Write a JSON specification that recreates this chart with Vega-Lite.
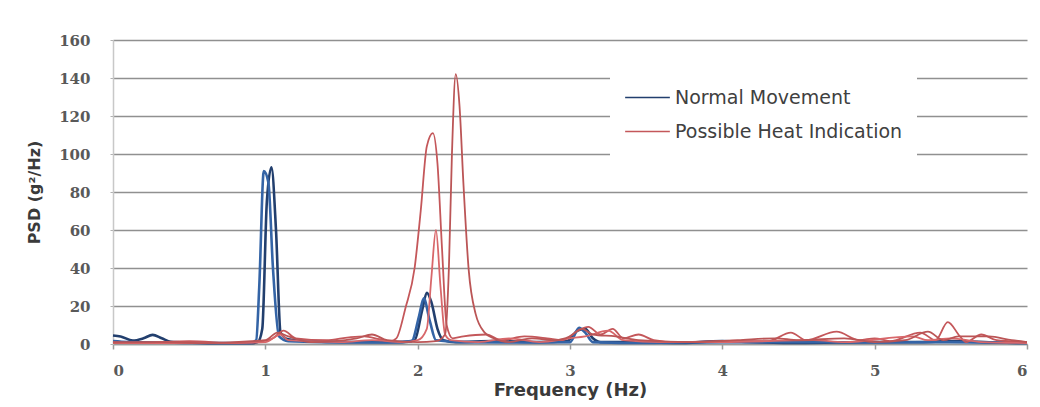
{
  "$schema": "https://vega.github.io/schema/vega-lite/v6.json",
  "width": 914,
  "height": 304,
  "autosize": {"type": "none"},
  "padding": {"left": 113, "top": 40, "right": 13, "bottom": 63},
  "background": "white",
  "config": {"view": {"stroke": null}, "font": "DejaVu Sans"},
  "datasets": {
    "psd": [
      {"series": "Normal Movement", "group": "Normal", "f": 0, "v": 4.5},
      {"series": "Normal Movement", "group": "Normal", "f": 0.05, "v": 4},
      {"series": "Normal Movement", "group": "Normal", "f": 0.13, "v": 1.8},
      {"series": "Normal Movement", "group": "Normal", "f": 0.2, "v": 3},
      {"series": "Normal Movement", "group": "Normal", "f": 0.26, "v": 4.8},
      {"series": "Normal Movement", "group": "Normal", "f": 0.32, "v": 3},
      {"series": "Normal Movement", "group": "Normal", "f": 0.38, "v": 1.2},
      {"series": "Normal Movement", "group": "Normal", "f": 0.5, "v": 0.8},
      {"series": "Normal Movement", "group": "Normal", "f": 0.7, "v": 0.4},
      {"series": "Normal Movement", "group": "Normal", "f": 0.9, "v": 0.4},
      {"series": "Normal Movement", "group": "Normal", "f": 0.95, "v": 1},
      {"series": "Normal Movement", "group": "Normal", "f": 0.98, "v": 8},
      {"series": "Normal Movement", "group": "Normal", "f": 1.01, "v": 75},
      {"series": "Normal Movement", "group": "Normal", "f": 1.04, "v": 93},
      {"series": "Normal Movement", "group": "Normal", "f": 1.07, "v": 60},
      {"series": "Normal Movement", "group": "Normal", "f": 1.1, "v": 6},
      {"series": "Normal Movement", "group": "Normal", "f": 1.15, "v": 2.5},
      {"series": "Normal Movement", "group": "Normal", "f": 1.3, "v": 1.5},
      {"series": "Normal Movement", "group": "Normal", "f": 1.5, "v": 1},
      {"series": "Normal Movement", "group": "Normal", "f": 1.7, "v": 1},
      {"series": "Normal Movement", "group": "Normal", "f": 1.9, "v": 1},
      {"series": "Normal Movement", "group": "Normal", "f": 1.98, "v": 2},
      {"series": "Normal Movement", "group": "Normal", "f": 2.03, "v": 18},
      {"series": "Normal Movement", "group": "Normal", "f": 2.06, "v": 27},
      {"series": "Normal Movement", "group": "Normal", "f": 2.09, "v": 22},
      {"series": "Normal Movement", "group": "Normal", "f": 2.13, "v": 8},
      {"series": "Normal Movement", "group": "Normal", "f": 2.17, "v": 2},
      {"series": "Normal Movement", "group": "Normal", "f": 2.25, "v": 1},
      {"series": "Normal Movement", "group": "Normal", "f": 2.5, "v": 1.5},
      {"series": "Normal Movement", "group": "Normal", "f": 2.8, "v": 1},
      {"series": "Normal Movement", "group": "Normal", "f": 2.98, "v": 1.5},
      {"series": "Normal Movement", "group": "Normal", "f": 3.05, "v": 7},
      {"series": "Normal Movement", "group": "Normal", "f": 3.1, "v": 8},
      {"series": "Normal Movement", "group": "Normal", "f": 3.15, "v": 3},
      {"series": "Normal Movement", "group": "Normal", "f": 3.2, "v": 1},
      {"series": "Normal Movement", "group": "Normal", "f": 3.4, "v": 1},
      {"series": "Normal Movement", "group": "Normal", "f": 3.7, "v": 0.5},
      {"series": "Normal Movement", "group": "Normal", "f": 4.0, "v": 1.5},
      {"series": "Normal Movement", "group": "Normal", "f": 4.2, "v": 1},
      {"series": "Normal Movement", "group": "Normal", "f": 4.5, "v": 0.5},
      {"series": "Normal Movement", "group": "Normal", "f": 5.0, "v": 1},
      {"series": "Normal Movement", "group": "Normal", "f": 5.3, "v": 1},
      {"series": "Normal Movement", "group": "Normal", "f": 5.5, "v": 1.5},
      {"series": "Normal Movement", "group": "Normal", "f": 5.8, "v": 0.8},
      {"series": "Normal Movement", "group": "Normal", "f": 6, "v": 0.5},

      {"series": "Normal Movement 2", "group": "Normal", "f": 0, "v": 1.5},
      {"series": "Normal Movement 2", "group": "Normal", "f": 0.1, "v": 1},
      {"series": "Normal Movement 2", "group": "Normal", "f": 0.3, "v": 0.8},
      {"series": "Normal Movement 2", "group": "Normal", "f": 0.6, "v": 0.5},
      {"series": "Normal Movement 2", "group": "Normal", "f": 0.9, "v": 0.5},
      {"series": "Normal Movement 2", "group": "Normal", "f": 0.94, "v": 2},
      {"series": "Normal Movement 2", "group": "Normal", "f": 0.96, "v": 30},
      {"series": "Normal Movement 2", "group": "Normal", "f": 0.99, "v": 91},
      {"series": "Normal Movement 2", "group": "Normal", "f": 1.02, "v": 85},
      {"series": "Normal Movement 2", "group": "Normal", "f": 1.05, "v": 40},
      {"series": "Normal Movement 2", "group": "Normal", "f": 1.09, "v": 4},
      {"series": "Normal Movement 2", "group": "Normal", "f": 1.15, "v": 1.5},
      {"series": "Normal Movement 2", "group": "Normal", "f": 1.4, "v": 1},
      {"series": "Normal Movement 2", "group": "Normal", "f": 1.8, "v": 0.8},
      {"series": "Normal Movement 2", "group": "Normal", "f": 1.96, "v": 1.5},
      {"series": "Normal Movement 2", "group": "Normal", "f": 2.01, "v": 15},
      {"series": "Normal Movement 2", "group": "Normal", "f": 2.04, "v": 24},
      {"series": "Normal Movement 2", "group": "Normal", "f": 2.08, "v": 12},
      {"series": "Normal Movement 2", "group": "Normal", "f": 2.12, "v": 2},
      {"series": "Normal Movement 2", "group": "Normal", "f": 2.3, "v": 1},
      {"series": "Normal Movement 2", "group": "Normal", "f": 2.7, "v": 0.8},
      {"series": "Normal Movement 2", "group": "Normal", "f": 3.0, "v": 1},
      {"series": "Normal Movement 2", "group": "Normal", "f": 3.06, "v": 8.5},
      {"series": "Normal Movement 2", "group": "Normal", "f": 3.1, "v": 6},
      {"series": "Normal Movement 2", "group": "Normal", "f": 3.15, "v": 1},
      {"series": "Normal Movement 2", "group": "Normal", "f": 3.5, "v": 0.5},
      {"series": "Normal Movement 2", "group": "Normal", "f": 4.0, "v": 1},
      {"series": "Normal Movement 2", "group": "Normal", "f": 4.5, "v": 1},
      {"series": "Normal Movement 2", "group": "Normal", "f": 5.0, "v": 0.8},
      {"series": "Normal Movement 2", "group": "Normal", "f": 5.5, "v": 1},
      {"series": "Normal Movement 2", "group": "Normal", "f": 6, "v": 0.5},

      {"series": "Possible Heat Indication", "group": "Heat", "f": 0, "v": 1},
      {"series": "Possible Heat Indication", "group": "Heat", "f": 0.2, "v": 0.8},
      {"series": "Possible Heat Indication", "group": "Heat", "f": 0.5, "v": 1.5},
      {"series": "Possible Heat Indication", "group": "Heat", "f": 0.8, "v": 0.5},
      {"series": "Possible Heat Indication", "group": "Heat", "f": 0.95, "v": 1},
      {"series": "Possible Heat Indication", "group": "Heat", "f": 1.05, "v": 3},
      {"series": "Possible Heat Indication", "group": "Heat", "f": 1.12, "v": 7},
      {"series": "Possible Heat Indication", "group": "Heat", "f": 1.2, "v": 3},
      {"series": "Possible Heat Indication", "group": "Heat", "f": 1.4, "v": 2},
      {"series": "Possible Heat Indication", "group": "Heat", "f": 1.55, "v": 3.5},
      {"series": "Possible Heat Indication", "group": "Heat", "f": 1.65, "v": 4},
      {"series": "Possible Heat Indication", "group": "Heat", "f": 1.75, "v": 2.5},
      {"series": "Possible Heat Indication", "group": "Heat", "f": 1.82, "v": 1.5},
      {"series": "Possible Heat Indication", "group": "Heat", "f": 1.86, "v": 3},
      {"series": "Possible Heat Indication", "group": "Heat", "f": 1.92, "v": 19},
      {"series": "Possible Heat Indication", "group": "Heat", "f": 1.98, "v": 40},
      {"series": "Possible Heat Indication", "group": "Heat", "f": 2.02, "v": 70},
      {"series": "Possible Heat Indication", "group": "Heat", "f": 2.06, "v": 104},
      {"series": "Possible Heat Indication", "group": "Heat", "f": 2.1, "v": 111},
      {"series": "Possible Heat Indication", "group": "Heat", "f": 2.13, "v": 95},
      {"series": "Possible Heat Indication", "group": "Heat", "f": 2.16, "v": 50},
      {"series": "Possible Heat Indication", "group": "Heat", "f": 2.19, "v": 10},
      {"series": "Possible Heat Indication", "group": "Heat", "f": 2.23, "v": 3},
      {"series": "Possible Heat Indication", "group": "Heat", "f": 2.3, "v": 4},
      {"series": "Possible Heat Indication", "group": "Heat", "f": 2.45, "v": 5},
      {"series": "Possible Heat Indication", "group": "Heat", "f": 2.55, "v": 2},
      {"series": "Possible Heat Indication", "group": "Heat", "f": 2.7, "v": 4},
      {"series": "Possible Heat Indication", "group": "Heat", "f": 2.85, "v": 3},
      {"series": "Possible Heat Indication", "group": "Heat", "f": 2.95, "v": 2},
      {"series": "Possible Heat Indication", "group": "Heat", "f": 3.05, "v": 7},
      {"series": "Possible Heat Indication", "group": "Heat", "f": 3.12, "v": 9},
      {"series": "Possible Heat Indication", "group": "Heat", "f": 3.2, "v": 5},
      {"series": "Possible Heat Indication", "group": "Heat", "f": 3.28, "v": 8},
      {"series": "Possible Heat Indication", "group": "Heat", "f": 3.35, "v": 3},
      {"series": "Possible Heat Indication", "group": "Heat", "f": 3.45, "v": 5},
      {"series": "Possible Heat Indication", "group": "Heat", "f": 3.55, "v": 2},
      {"series": "Possible Heat Indication", "group": "Heat", "f": 3.7, "v": 1},
      {"series": "Possible Heat Indication", "group": "Heat", "f": 4.0, "v": 1.5},
      {"series": "Possible Heat Indication", "group": "Heat", "f": 4.3, "v": 1.5},
      {"series": "Possible Heat Indication", "group": "Heat", "f": 4.45, "v": 6},
      {"series": "Possible Heat Indication", "group": "Heat", "f": 4.55, "v": 2},
      {"series": "Possible Heat Indication", "group": "Heat", "f": 4.75, "v": 6.5},
      {"series": "Possible Heat Indication", "group": "Heat", "f": 4.9, "v": 2},
      {"series": "Possible Heat Indication", "group": "Heat", "f": 5.0, "v": 3},
      {"series": "Possible Heat Indication", "group": "Heat", "f": 5.1, "v": 1.5},
      {"series": "Possible Heat Indication", "group": "Heat", "f": 5.3, "v": 6},
      {"series": "Possible Heat Indication", "group": "Heat", "f": 5.4, "v": 2},
      {"series": "Possible Heat Indication", "group": "Heat", "f": 5.48, "v": 11.5},
      {"series": "Possible Heat Indication", "group": "Heat", "f": 5.56, "v": 4},
      {"series": "Possible Heat Indication", "group": "Heat", "f": 5.6, "v": 1},
      {"series": "Possible Heat Indication", "group": "Heat", "f": 5.7, "v": 5},
      {"series": "Possible Heat Indication", "group": "Heat", "f": 5.8, "v": 2},
      {"series": "Possible Heat Indication", "group": "Heat", "f": 6, "v": 1},

      {"series": "Possible Heat Indication 2", "group": "Heat", "f": 0, "v": 0.5},
      {"series": "Possible Heat Indication 2", "group": "Heat", "f": 0.5, "v": 0.5},
      {"series": "Possible Heat Indication 2", "group": "Heat", "f": 1.0, "v": 1},
      {"series": "Possible Heat Indication 2", "group": "Heat", "f": 1.1, "v": 5},
      {"series": "Possible Heat Indication 2", "group": "Heat", "f": 1.15, "v": 2},
      {"series": "Possible Heat Indication 2", "group": "Heat", "f": 1.5, "v": 1},
      {"series": "Possible Heat Indication 2", "group": "Heat", "f": 1.7, "v": 2},
      {"series": "Possible Heat Indication 2", "group": "Heat", "f": 1.9, "v": 1},
      {"series": "Possible Heat Indication 2", "group": "Heat", "f": 2.0, "v": 2},
      {"series": "Possible Heat Indication 2", "group": "Heat", "f": 2.06, "v": 8},
      {"series": "Possible Heat Indication 2", "group": "Heat", "f": 2.09, "v": 35},
      {"series": "Possible Heat Indication 2", "group": "Heat", "f": 2.12, "v": 60},
      {"series": "Possible Heat Indication 2", "group": "Heat", "f": 2.15, "v": 30},
      {"series": "Possible Heat Indication 2", "group": "Heat", "f": 2.18, "v": 5},
      {"series": "Possible Heat Indication 2", "group": "Heat", "f": 2.22, "v": 2},
      {"series": "Possible Heat Indication 2", "group": "Heat", "f": 2.4, "v": 1},
      {"series": "Possible Heat Indication 2", "group": "Heat", "f": 2.6, "v": 3},
      {"series": "Possible Heat Indication 2", "group": "Heat", "f": 2.8, "v": 1},
      {"series": "Possible Heat Indication 2", "group": "Heat", "f": 3.0, "v": 3},
      {"series": "Possible Heat Indication 2", "group": "Heat", "f": 3.1, "v": 4},
      {"series": "Possible Heat Indication 2", "group": "Heat", "f": 3.25, "v": 7},
      {"series": "Possible Heat Indication 2", "group": "Heat", "f": 3.35, "v": 2},
      {"series": "Possible Heat Indication 2", "group": "Heat", "f": 3.6, "v": 1},
      {"series": "Possible Heat Indication 2", "group": "Heat", "f": 4.0, "v": 1},
      {"series": "Possible Heat Indication 2", "group": "Heat", "f": 4.6, "v": 2},
      {"series": "Possible Heat Indication 2", "group": "Heat", "f": 4.8, "v": 1},
      {"series": "Possible Heat Indication 2", "group": "Heat", "f": 5.25, "v": 4},
      {"series": "Possible Heat Indication 2", "group": "Heat", "f": 5.35, "v": 2},
      {"series": "Possible Heat Indication 2", "group": "Heat", "f": 5.5, "v": 3},
      {"series": "Possible Heat Indication 2", "group": "Heat", "f": 5.7, "v": 1},
      {"series": "Possible Heat Indication 2", "group": "Heat", "f": 6, "v": 0.5},

      {"series": "Possible Heat Indication 3", "group": "Heat", "f": 0, "v": 0.8},
      {"series": "Possible Heat Indication 3", "group": "Heat", "f": 0.3, "v": 1},
      {"series": "Possible Heat Indication 3", "group": "Heat", "f": 0.6, "v": 0.5},
      {"series": "Possible Heat Indication 3", "group": "Heat", "f": 1.0, "v": 2},
      {"series": "Possible Heat Indication 3", "group": "Heat", "f": 1.08, "v": 6},
      {"series": "Possible Heat Indication 3", "group": "Heat", "f": 1.15, "v": 4},
      {"series": "Possible Heat Indication 3", "group": "Heat", "f": 1.3, "v": 1},
      {"series": "Possible Heat Indication 3", "group": "Heat", "f": 1.6, "v": 3},
      {"series": "Possible Heat Indication 3", "group": "Heat", "f": 1.7, "v": 5},
      {"series": "Possible Heat Indication 3", "group": "Heat", "f": 1.8, "v": 2},
      {"series": "Possible Heat Indication 3", "group": "Heat", "f": 2.0, "v": 1},
      {"series": "Possible Heat Indication 3", "group": "Heat", "f": 2.12, "v": 1.5},
      {"series": "Possible Heat Indication 3", "group": "Heat", "f": 2.18, "v": 5},
      {"series": "Possible Heat Indication 3", "group": "Heat", "f": 2.205, "v": 40},
      {"series": "Possible Heat Indication 3", "group": "Heat", "f": 2.225, "v": 100},
      {"series": "Possible Heat Indication 3", "group": "Heat", "f": 2.25, "v": 142},
      {"series": "Possible Heat Indication 3", "group": "Heat", "f": 2.275, "v": 125},
      {"series": "Possible Heat Indication 3", "group": "Heat", "f": 2.3, "v": 85},
      {"series": "Possible Heat Indication 3", "group": "Heat", "f": 2.335, "v": 39},
      {"series": "Possible Heat Indication 3", "group": "Heat", "f": 2.38, "v": 16},
      {"series": "Possible Heat Indication 3", "group": "Heat", "f": 2.44, "v": 6},
      {"series": "Possible Heat Indication 3", "group": "Heat", "f": 2.5, "v": 3},
      {"series": "Possible Heat Indication 3", "group": "Heat", "f": 2.6, "v": 1},
      {"series": "Possible Heat Indication 3", "group": "Heat", "f": 2.75, "v": 3},
      {"series": "Possible Heat Indication 3", "group": "Heat", "f": 2.9, "v": 2},
      {"series": "Possible Heat Indication 3", "group": "Heat", "f": 3.0, "v": 4},
      {"series": "Possible Heat Indication 3", "group": "Heat", "f": 3.08, "v": 8},
      {"series": "Possible Heat Indication 3", "group": "Heat", "f": 3.15, "v": 5},
      {"series": "Possible Heat Indication 3", "group": "Heat", "f": 3.3, "v": 4},
      {"series": "Possible Heat Indication 3", "group": "Heat", "f": 3.45, "v": 2},
      {"series": "Possible Heat Indication 3", "group": "Heat", "f": 3.8, "v": 1},
      {"series": "Possible Heat Indication 3", "group": "Heat", "f": 4.1, "v": 2},
      {"series": "Possible Heat Indication 3", "group": "Heat", "f": 4.35, "v": 3},
      {"series": "Possible Heat Indication 3", "group": "Heat", "f": 4.5, "v": 2},
      {"series": "Possible Heat Indication 3", "group": "Heat", "f": 4.8, "v": 3},
      {"series": "Possible Heat Indication 3", "group": "Heat", "f": 5.0, "v": 1},
      {"series": "Possible Heat Indication 3", "group": "Heat", "f": 5.2, "v": 2},
      {"series": "Possible Heat Indication 3", "group": "Heat", "f": 5.35, "v": 6.5},
      {"series": "Possible Heat Indication 3", "group": "Heat", "f": 5.45, "v": 2},
      {"series": "Possible Heat Indication 3", "group": "Heat", "f": 5.55, "v": 4},
      {"series": "Possible Heat Indication 3", "group": "Heat", "f": 5.75, "v": 4},
      {"series": "Possible Heat Indication 3", "group": "Heat", "f": 5.9, "v": 2},
      {"series": "Possible Heat Indication 3", "group": "Heat", "f": 6, "v": 1}
    ]
  },
  "data": {"name": "psd"},
  "mark": {"type": "line", "interpolate": "monotone"},
  "encoding": {
    "x": {
      "field": "f", "type": "quantitative",
      "scale": {"domain": [0, 6], "nice": false},
      "axis": {
        "title": "Frequency (Hz)", "values": [0, 1, 2, 3, 4, 5, 6], "grid": false,
        "domainColor": "#9a9a9a", "domainWidth": 1.5, "tickColor": "#9a9a9a", "tickSize": 5, "tickWidth": 1.5,
        "labelFont": "DejaVu Serif", "labelFontSize": 15, "labelFontWeight": "bold", "labelColor": "#595959", "labelPadding": 14,
        "titleFont": "DejaVu Sans", "titleFontSize": 18, "titleFontWeight": "bold", "titleColor": "#3a3a3a", "titlePadding": 3
      }
    },
    "y": {
      "field": "v", "type": "quantitative",
      "scale": {"domain": [0, 160], "nice": false},
      "axis": {
        "title": "PSD (g²/Hz)", "values": [0, 20, 40, 60, 80, 100, 120, 140, 160],
        "gridColor": "#909090", "gridWidth": 1.3,
        "domainColor": "#c8c8c8", "domainWidth": 1.5, "tickColor": "#b0b0b0", "tickSize": 3,
        "labelFont": "DejaVu Serif", "labelFontSize": 15, "labelFontWeight": "bold", "labelColor": "#595959", "labelPadding": 20,
        "titleFont": "DejaVu Sans", "titleFontSize": 16, "titleFontWeight": "bold", "titleColor": "#3a3a3a", "titlePadding": 16
      }
    },
    "color": {
      "field": "series", "type": "nominal",
      "scale": {
        "domain": ["Normal Movement", "Normal Movement 2", "Possible Heat Indication", "Possible Heat Indication 2", "Possible Heat Indication 3"],
        "range": ["#223f6e", "#3464a6", "#c4575a", "#d8676a", "#bb5556"]
      },
      "legend": {
        "values": ["Normal Movement", "Possible Heat Indication"],
        "title": null, "orient": "none", "legendX": 497, "legendY": 20,
        "symbolType": "stroke", "symbolSize": 2000, "symbolStrokeWidth": 1.5,
        "labelFont": "DejaVu Sans", "labelFontSize": 19, "labelColor": "#404040", "labelOffset": 4, "labelLimit": 500,
        "rowPadding": 0, "padding": 14, "fillColor": "white"
      }
    },
    "strokeWidth": {
      "field": "group", "type": "nominal",
      "scale": {"domain": ["Normal", "Heat"], "range": [2.6, 1.8]},
      "legend": null
    }
  }
}
